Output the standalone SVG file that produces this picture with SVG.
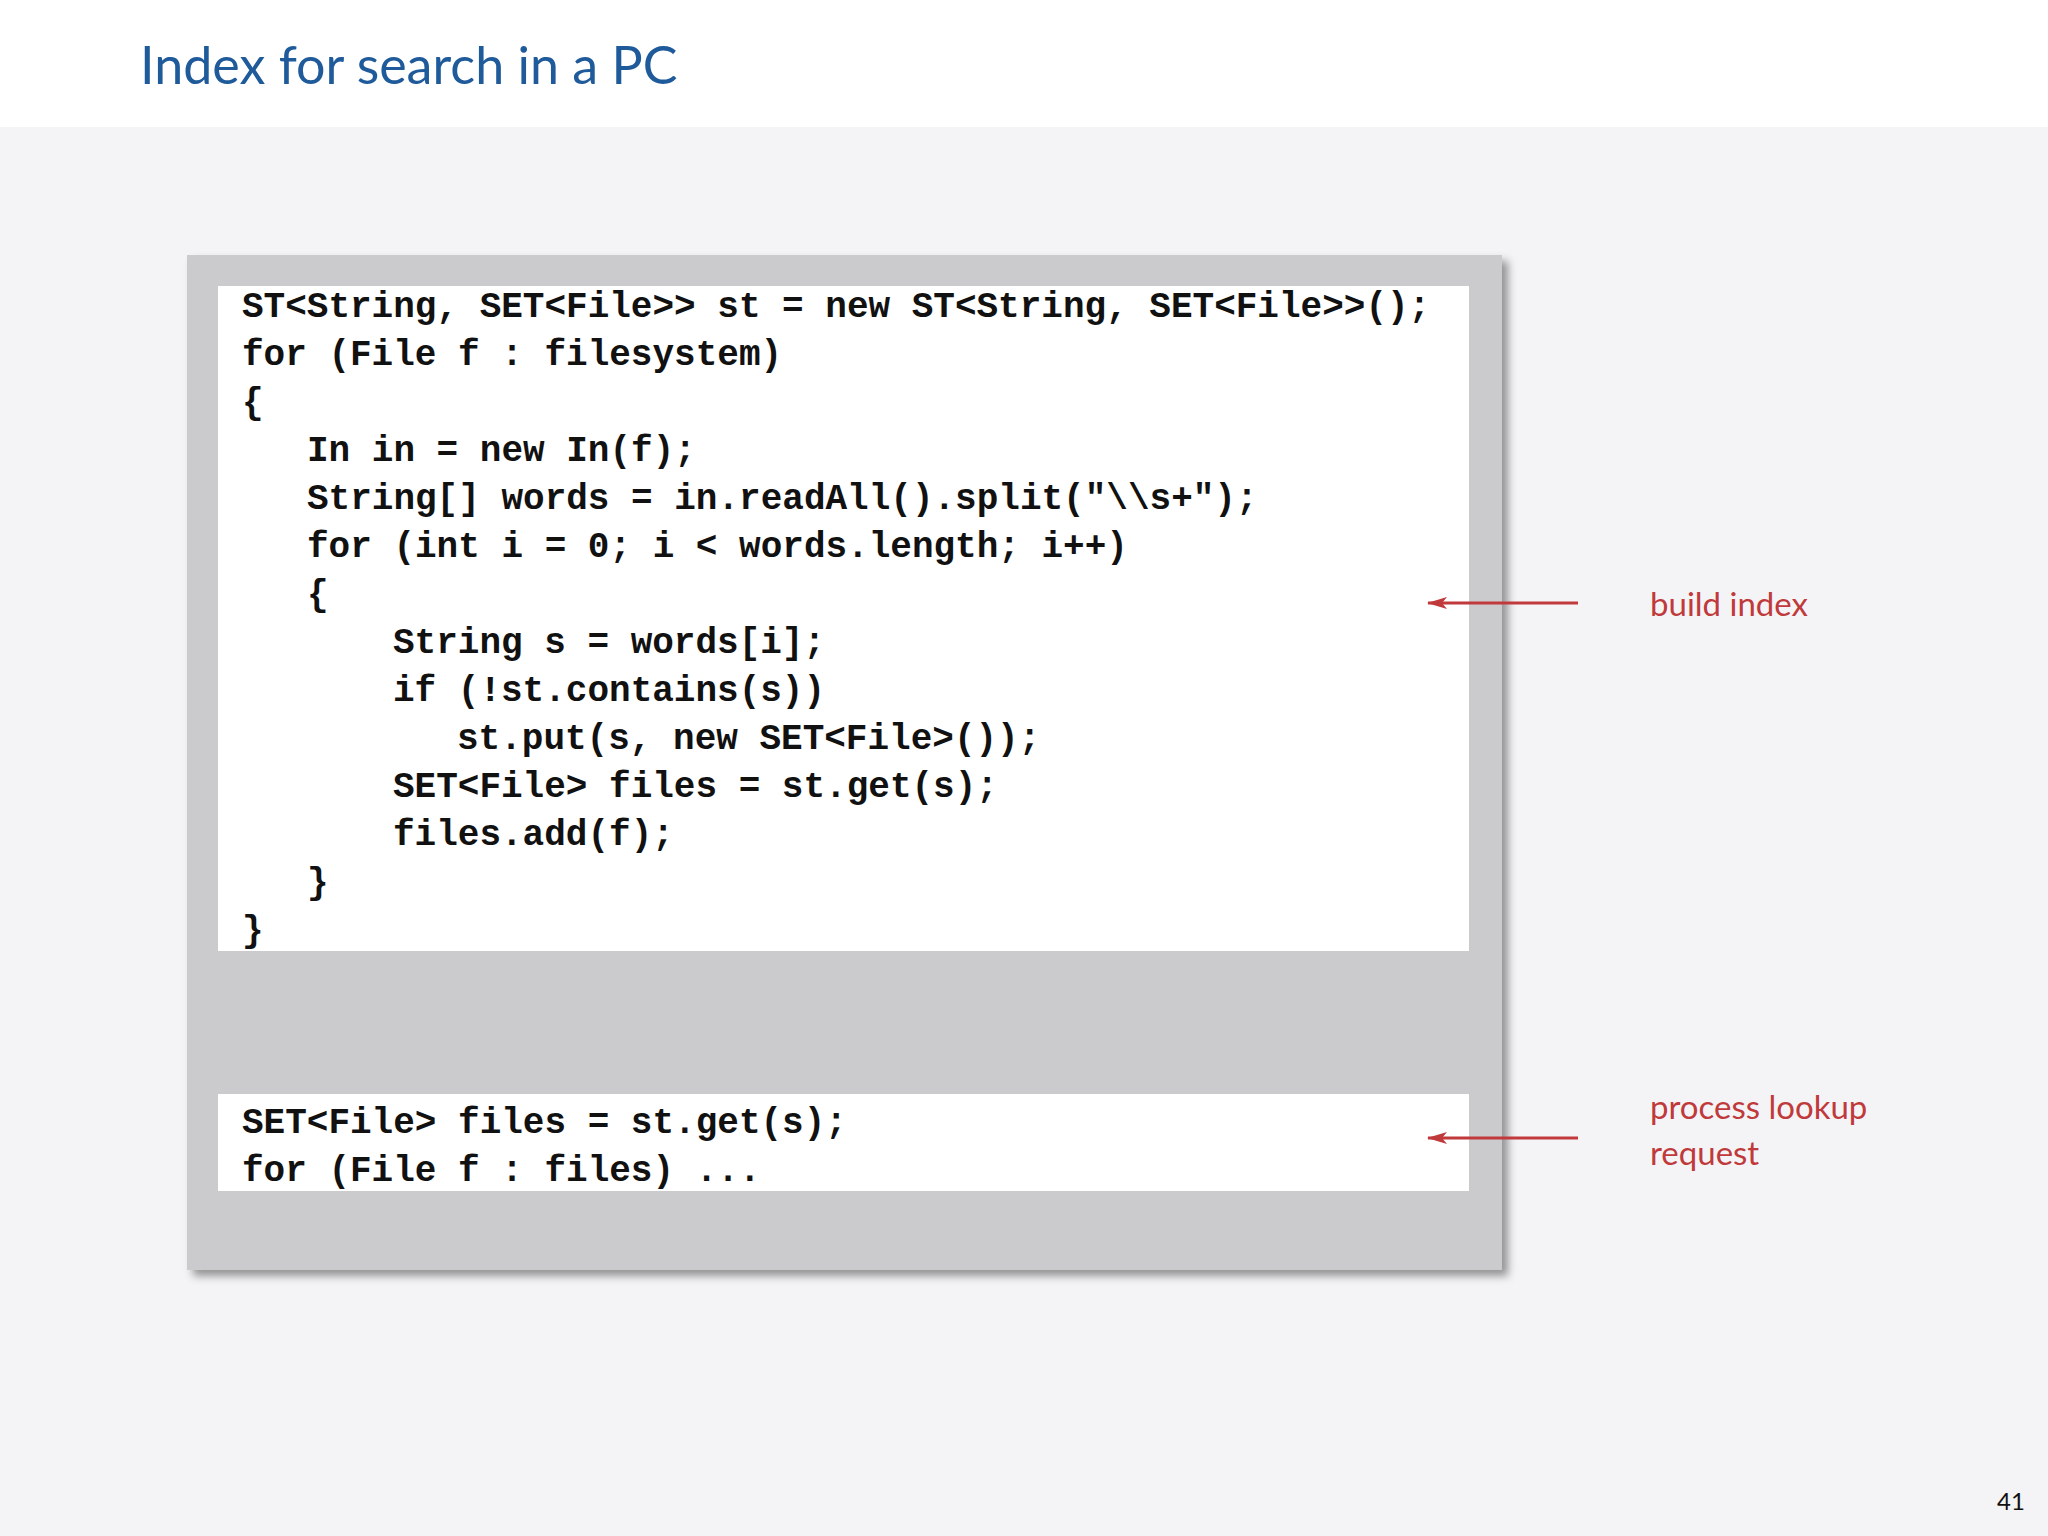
<svg xmlns="http://www.w3.org/2000/svg" width="2048" height="1536" viewBox="0 0 2048 1536">
<defs>
<style>
.code{font-family:"Liberation Mono",monospace;font-weight:bold;font-size:36px;fill:#111;white-space:pre}
.lbl{font-family:Lato,"Open Sans",sans-serif;font-size:33px;fill:#c0393b}
</style>
<marker id="ah2" viewBox="0 0 20 12" refX="19" refY="6" markerWidth="20" markerHeight="12" orient="auto" markerUnits="userSpaceOnUse"><path d="M0,0 L20,6 L0,12 L5,6 z" fill="#c0393b"/></marker>
<filter id="sh" x="-5%" y="-5%" width="112%" height="112%"><feDropShadow dx="6" dy="6" stdDeviation="4" flood-color="#000" flood-opacity="0.4"/></filter>
</defs>
<rect width="2048" height="1536" fill="#f4f4f6"/>
<rect width="2048" height="127" fill="#fff"/>
<text x="140" y="84" font-family="Lato,'Open Sans',sans-serif" font-size="52" fill="#1f5a9a">Index for search in a PC</text>
<g id="panel">
<rect x="187" y="255" width="1315" height="1015" fill="#cbcacd" filter="url(#sh)"/>
</g>
<g id="build">
<rect x="218" y="286" width="1251" height="665" fill="#fff"/>
<text class="code" x="242" y="317">ST&lt;String, SET&lt;File&gt;&gt; st = new ST&lt;String, SET&lt;File&gt;&gt;();</text>
<text class="code" x="242" y="365">for (File f : filesystem)</text>
<text class="code" x="242" y="413">{</text>
<text class="code" x="307" y="461">In in = new In(f);</text>
<text class="code" x="307" y="509">String[] words = in.readAll().split("\\s+");</text>
<text class="code" x="307" y="557">for (int i = 0; i &lt; words.length; i++)</text>
<text class="code" x="307" y="605">{</text>
<text class="code" x="393" y="653">String s = words[i];</text>
<text class="code" x="393" y="701">if (!st.contains(s))</text>
<text class="code" x="457" y="749">st.put(s, new SET&lt;File&gt;());</text>
<text class="code" x="393" y="797">SET&lt;File&gt; files = st.get(s);</text>
<text class="code" x="393" y="845">files.add(f);</text>
<text class="code" x="307" y="893">}</text>
<text class="code" x="242" y="941">}</text>
</g>
<g id="lookup">
<rect x="218" y="1094" width="1251" height="97" fill="#fff"/>
<text class="code" x="242" y="1133">SET&lt;File&gt; files = st.get(s);</text>
<text class="code" x="242" y="1181">for (File f : files) ...</text>
</g>
<g id="connectors">
<line x1="1578" y1="603" x2="1428" y2="603" stroke="#c0393b" stroke-width="3" marker-end="url(#ah2)"/>
<line x1="1578" y1="1138" x2="1428" y2="1138" stroke="#c0393b" stroke-width="3" marker-end="url(#ah2)"/>
</g>
<g id="labels">
<text class="lbl" x="1650" y="616">build index</text>
<text class="lbl" x="1650" y="1119">process lookup</text>
<text class="lbl" x="1650" y="1165">request</text>
</g>
<text x="2011" y="1510" font-family="Lato,sans-serif" font-size="24" fill="#111" text-anchor="middle">41</text>
</svg>
